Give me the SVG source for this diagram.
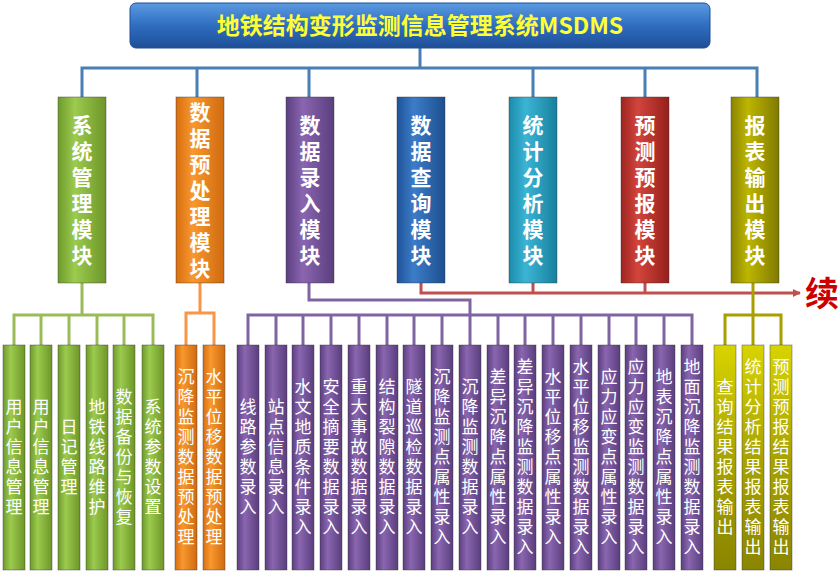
<svg xmlns="http://www.w3.org/2000/svg" width="840" height="576" viewBox="0 0 840 576">
<defs>
<linearGradient id="gT" x1="0" y1="0" x2="0" y2="1"><stop offset="0" stop-color="#5b9be0"/><stop offset="0.5" stop-color="#2f6dc0"/><stop offset="1" stop-color="#1f4f96"/></linearGradient>
<linearGradient id="gG" x1="0" y1="0" x2="1" y2="0"><stop offset="0" stop-color="#6f9a2c"/><stop offset="0.35" stop-color="#9ccb4e"/><stop offset="1" stop-color="#6d9628"/></linearGradient>
<linearGradient id="gO" x1="0" y1="0" x2="1" y2="0"><stop offset="0" stop-color="#d86e10"/><stop offset="0.35" stop-color="#f8982e"/><stop offset="1" stop-color="#d06a10"/></linearGradient>
<linearGradient id="gP" x1="0" y1="0" x2="1" y2="0"><stop offset="0" stop-color="#5c3f80"/><stop offset="0.35" stop-color="#8a66b0"/><stop offset="1" stop-color="#5a3e7e"/></linearGradient>
<linearGradient id="gB" x1="0" y1="0" x2="1" y2="0"><stop offset="0" stop-color="#1e5398"/><stop offset="0.35" stop-color="#3c7cc8"/><stop offset="1" stop-color="#1d4f90"/></linearGradient>
<linearGradient id="gC" x1="0" y1="0" x2="1" y2="0"><stop offset="0" stop-color="#1a8cab"/><stop offset="0.35" stop-color="#3cb4d4"/><stop offset="1" stop-color="#17809e"/></linearGradient>
<linearGradient id="gR" x1="0" y1="0" x2="1" y2="0"><stop offset="0" stop-color="#9e2420"/><stop offset="0.35" stop-color="#d2453c"/><stop offset="1" stop-color="#961f1c"/></linearGradient>
<linearGradient id="gY" x1="0" y1="0" x2="1" y2="0"><stop offset="0" stop-color="#8a8400"/><stop offset="0.35" stop-color="#bdb600"/><stop offset="1" stop-color="#807a00"/></linearGradient>
<linearGradient id="gY2" x1="0" y1="0" x2="0" y2="1"><stop offset="0" stop-color="#d8d400"/><stop offset="0.5" stop-color="#a9a300"/><stop offset="1" stop-color="#8a8500"/></linearGradient>
<marker id="arr" markerWidth="8" markerHeight="8" refX="7" refY="4" orient="auto" markerUnits="userSpaceOnUse"><path d="M0,0 L8,4 L0,8 Z" fill="#c0504d"/></marker>
</defs>
<style>
text{font-family:"Noto Sans CJK SC","Noto Sans",sans-serif;fill:#fff;}
.m{font-size:21px;font-weight:bold;writing-mode:vertical-rl;text-anchor:middle;letter-spacing:5px;}
.c{font-size:17px;writing-mode:vertical-rl;text-anchor:middle;letter-spacing:3px;}
.box{stroke:#333;stroke-opacity:0.5;stroke-width:0.8;}
.ln{fill:none;stroke-width:3;}
</style>
<g id="connectors">
<path class="ln" stroke="#4a7fb5" d="M420,48 V68 M82,97 V68 H757 V97 M197,68 V97 M309,68 V97 M533,68 V97 M645,68 V97"/>
<path class="ln" stroke="#9bbb59" d="M82,283 V315 M14,345 V315 H153 V345 M41,315 V345 M69,315 V345 M97,315 V345 M124,315 V345"/>
<path class="ln" stroke="#f79646" d="M200,283 V313 M186,345 V313 H214 V345"/>
<path class="ln" stroke="#8064a2" d="M309,283 V300 H470 V315 M248,345 V315 H692 V345 M276,315 V345 M303,315 V345 M331,315 V345 M359,315 V345 M387,315 V345 M414,315 V345 M442,315 V345 M470,315 V345 M498,315 V345 M525,315 V345 M553,315 V345 M581,315 V345 M609,315 V345 M636,315 V345 M664,315 V345"/>
<path class="ln" stroke="#c0504d" stroke-width="2.5" d="M533,283 V293 M645,283 V293"/>
<path class="ln" stroke="#c0504d" stroke-width="2.5" marker-end="url(#arr)" d="M421,283 V293 H800"/>
<path class="ln" stroke="#a8a000" d="M753,283 V345 M725,345 V315 H781 V345"/>
</g>
<g id="title"><rect x="130" y="3" width="580" height="45" rx="6" fill="url(#gT)" stroke="#1f4f96"/><text x="420" y="34" text-anchor="middle" style="font-size:23px;font-weight:bold;fill:#ffff33">地铁结构变形监测信息管理系统MSDMS</text></g>
<text x="805" y="306" style="font-size:34px;font-weight:bold;fill:#cc0000">续</text>
<g id="m1"><rect class="box" x="58" y="97" width="48" height="186" fill="url(#gG)"/><text class="m" x="82" y="193">系统管理模块</text></g>
<g id="m2"><rect class="box" x="176" y="97" width="48" height="186" fill="url(#gO)"/><text class="m" x="200" y="193">数据预处理模块</text></g>
<g id="m3"><rect class="box" x="286" y="97" width="48" height="186" fill="url(#gP)"/><text class="m" x="310" y="193">数据录入模块</text></g>
<g id="m4"><rect class="box" x="397" y="97" width="48" height="186" fill="url(#gB)"/><text class="m" x="421" y="193">数据查询模块</text></g>
<g id="m5"><rect class="box" x="509" y="97" width="48" height="186" fill="url(#gC)"/><text class="m" x="533" y="193">统计分析模块</text></g>
<g id="m6"><rect class="box" x="621" y="97" width="48" height="186" fill="url(#gR)"/><text class="m" x="645" y="193">预测预报模块</text></g>
<g id="m7"><rect class="box" x="731" y="97" width="48" height="186" fill="url(#gY)"/><text class="m" x="755" y="193">报表输出模块</text></g>
<g id="g1"><rect class="box" x="3" y="345" width="22" height="225" fill="url(#gG)"/><text class="c" x="14" y="458">用户信息管理</text></g>
<g id="g2"><rect class="box" x="30" y="345" width="22" height="225" fill="url(#gG)"/><text class="c" x="41" y="458">用户信息管理</text></g>
<g id="g3"><rect class="box" x="58" y="345" width="22" height="225" fill="url(#gG)"/><text class="c" x="69" y="458">日记管理</text></g>
<g id="g4"><rect class="box" x="86" y="345" width="22" height="225" fill="url(#gG)"/><text class="c" x="97" y="458">地铁线路维护</text></g>
<g id="g5"><rect class="box" x="113" y="345" width="22" height="225" fill="url(#gG)"/><text class="c" x="124" y="458">数据备份与恢复</text></g>
<g id="g6"><rect class="box" x="142" y="345" width="22" height="225" fill="url(#gG)"/><text class="c" x="153" y="458">系统参数设置</text></g>
<g id="o1"><rect class="box" x="175" y="345" width="22" height="225" fill="url(#gO)"/><text class="c" x="186" y="458">沉降监测数据预处理</text></g>
<g id="o2"><rect class="box" x="203" y="345" width="22" height="225" fill="url(#gO)"/><text class="c" x="214" y="458">水平位移数据预处理</text></g>
<g id="p1"><rect class="box" x="237" y="345" width="22" height="225" fill="url(#gP)"/><text class="c" x="248" y="458">线路参数录入</text></g>
<g id="p2"><rect class="box" x="265" y="345" width="22" height="225" fill="url(#gP)"/><text class="c" x="276" y="458">站点信息录入</text></g>
<g id="p3"><rect class="box" x="292" y="345" width="22" height="225" fill="url(#gP)"/><text class="c" x="303" y="458">水文地质条件录入</text></g>
<g id="p4"><rect class="box" x="320" y="345" width="22" height="225" fill="url(#gP)"/><text class="c" x="331" y="458">安全摘要数据录入</text></g>
<g id="p5"><rect class="box" x="348" y="345" width="22" height="225" fill="url(#gP)"/><text class="c" x="359" y="458">重大事故数据录入</text></g>
<g id="p6"><rect class="box" x="376" y="345" width="22" height="225" fill="url(#gP)"/><text class="c" x="387" y="458">结构裂隙数据录入</text></g>
<g id="p7"><rect class="box" x="403" y="345" width="22" height="225" fill="url(#gP)"/><text class="c" x="414" y="458">隧道巡检数据录入</text></g>
<g id="p8"><rect class="box" x="431" y="345" width="22" height="225" fill="url(#gP)"/><text class="c" x="442" y="458">沉降监测点属性录入</text></g>
<g id="p9"><rect class="box" x="459" y="345" width="22" height="225" fill="url(#gP)"/><text class="c" x="470" y="458">沉降监测数据录入</text></g>
<g id="p10"><rect class="box" x="487" y="345" width="22" height="225" fill="url(#gP)"/><text class="c" x="498" y="458">差异沉降点属性录入</text></g>
<g id="p11"><rect class="box" x="514" y="345" width="22" height="225" fill="url(#gP)"/><text class="c" x="525" y="458">差异沉降监测数据录入</text></g>
<g id="p12"><rect class="box" x="542" y="345" width="22" height="225" fill="url(#gP)"/><text class="c" x="553" y="458">水平位移点属性录入</text></g>
<g id="p13"><rect class="box" x="570" y="345" width="22" height="225" fill="url(#gP)"/><text class="c" x="581" y="458">水平位移监测数据录入</text></g>
<g id="p14"><rect class="box" x="598" y="345" width="22" height="225" fill="url(#gP)"/><text class="c" x="609" y="458">应力应变点属性录入</text></g>
<g id="p15"><rect class="box" x="625" y="345" width="22" height="225" fill="url(#gP)"/><text class="c" x="636" y="458">应力应变监测数据录入</text></g>
<g id="p16"><rect class="box" x="653" y="345" width="22" height="225" fill="url(#gP)"/><text class="c" x="664" y="458">地表沉降点属性录入</text></g>
<g id="p17"><rect class="box" x="681" y="345" width="22" height="225" fill="url(#gP)"/><text class="c" x="692" y="458">地面沉降监测数据录入</text></g>
<g id="y1"><rect class="box" x="714" y="345" width="22" height="225" fill="url(#gY2)"/><text class="c" x="725" y="458">查询结果报表输出</text></g>
<g id="y2"><rect class="box" x="742" y="345" width="22" height="225" fill="url(#gY2)"/><text class="c" x="753" y="458">统计分析结果报表输出</text></g>
<g id="y3"><rect class="box" x="770" y="345" width="22" height="225" fill="url(#gY2)"/><text class="c" x="781" y="458">预测预报结果报表输出</text></g>
</svg>
